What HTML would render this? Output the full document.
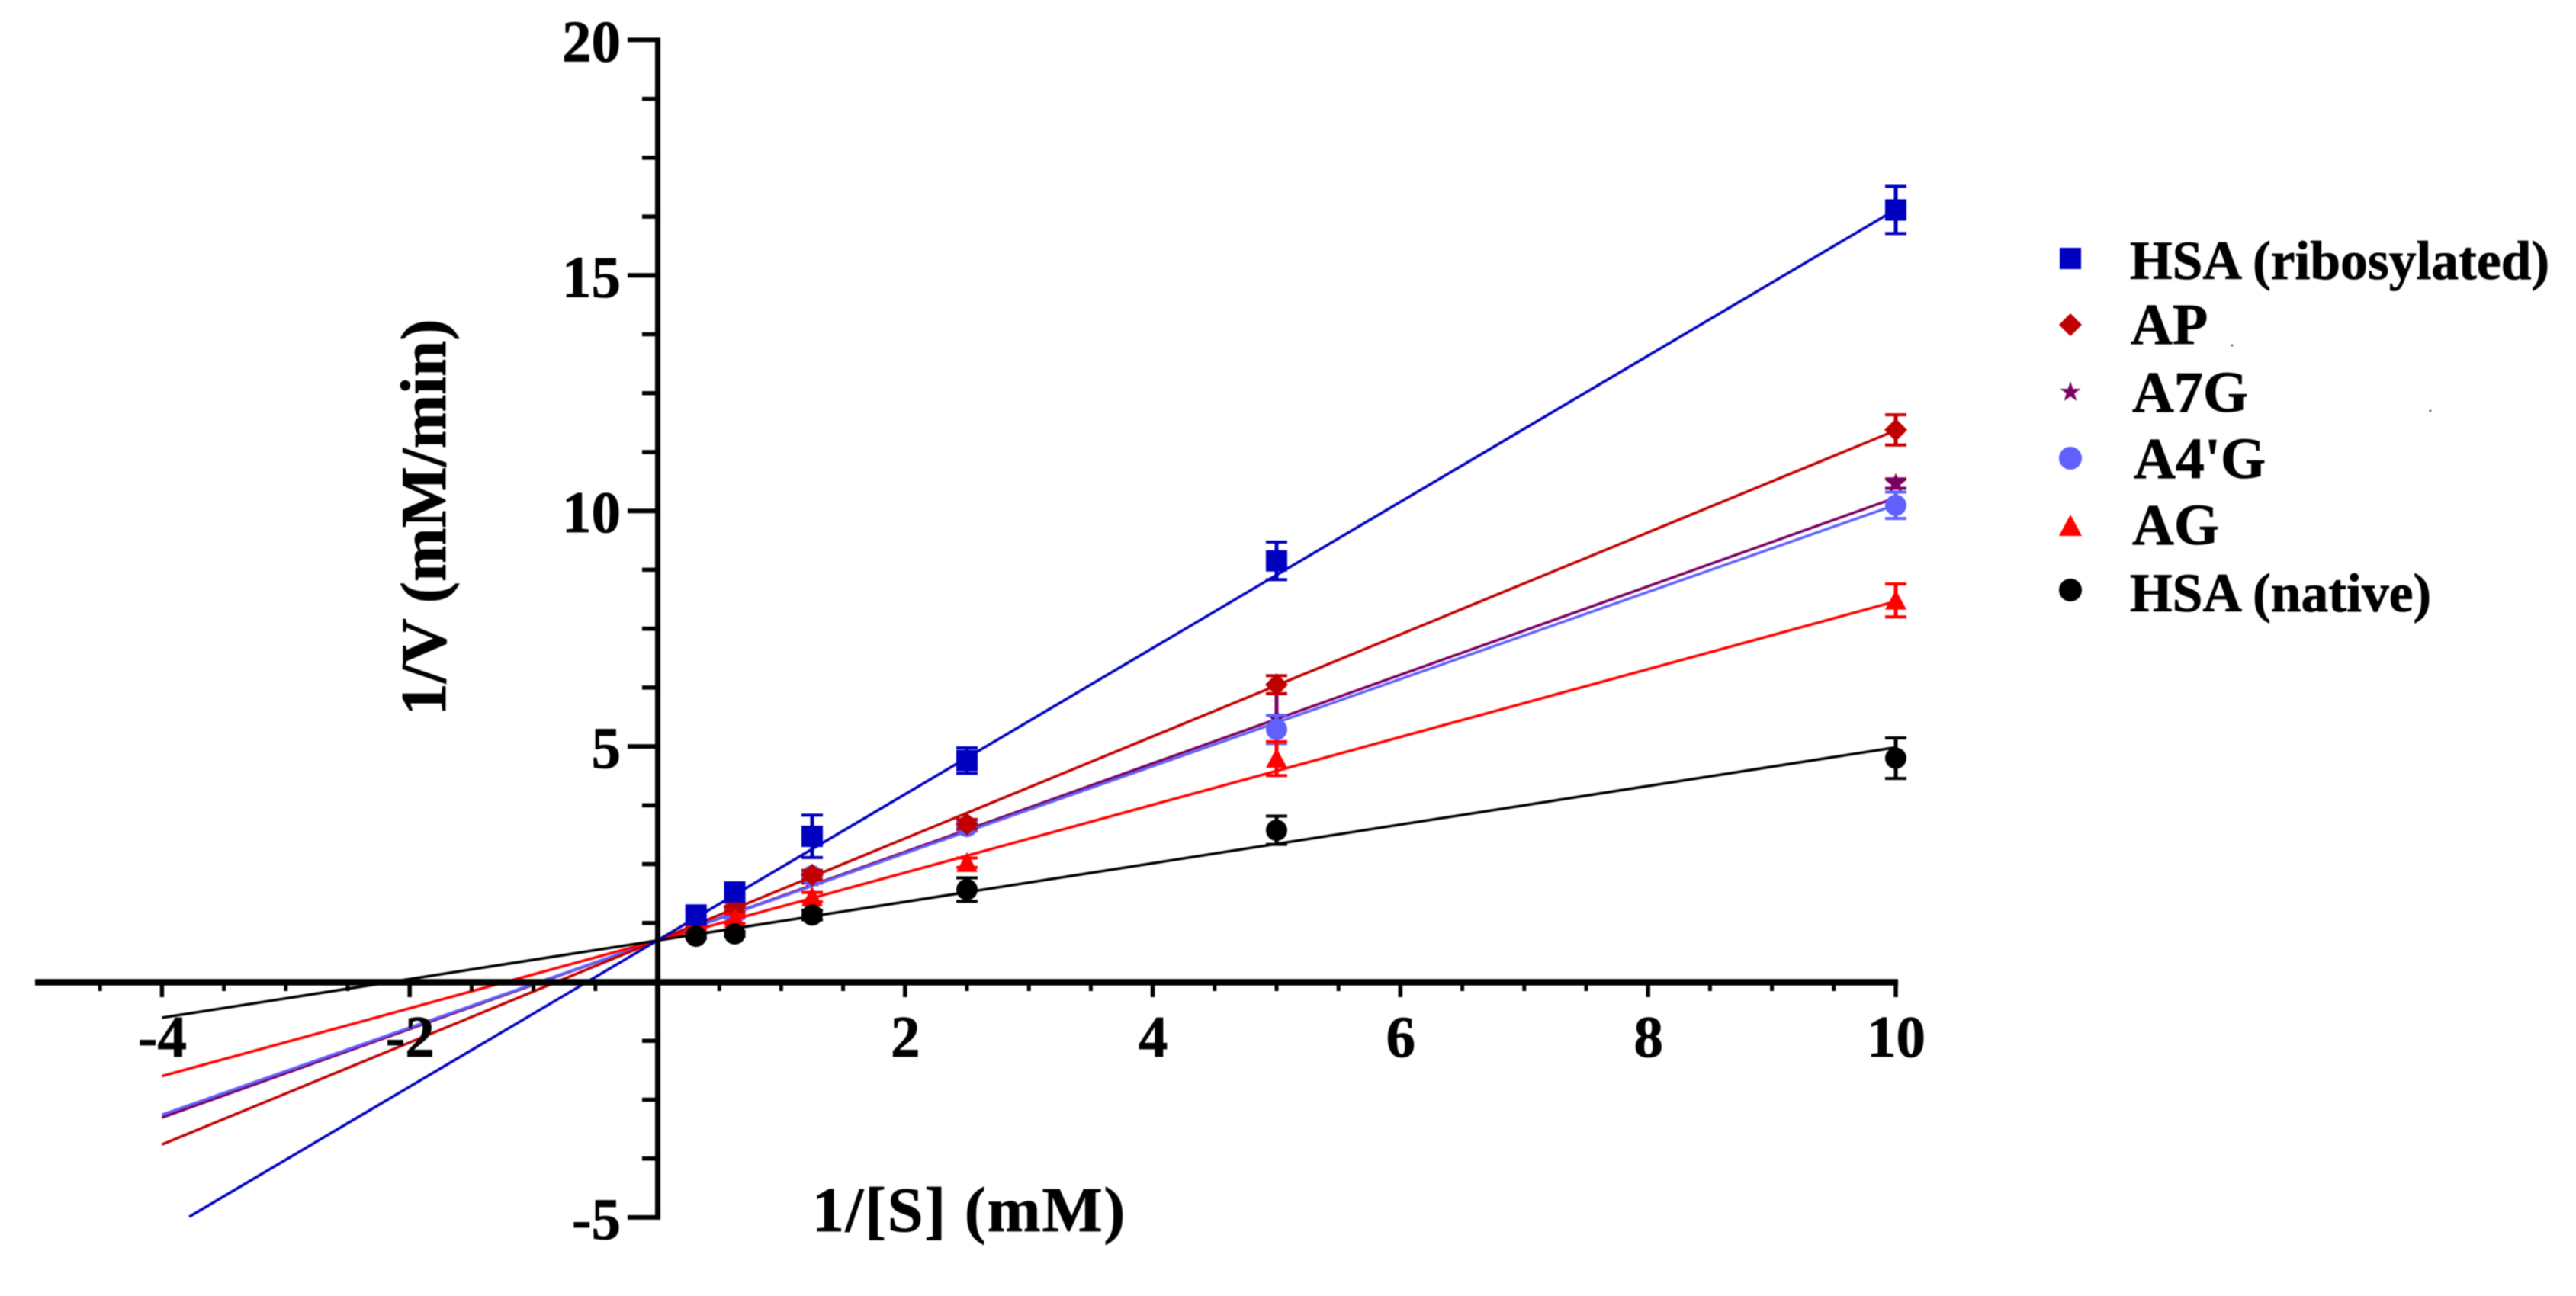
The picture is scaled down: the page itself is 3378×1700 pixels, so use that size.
<!DOCTYPE html>
<html lang="en">
<head>
<meta charset="utf-8">
<title>Lineweaver-Burk plot</title>
<style>
html,body{margin:0;padding:0;background:#fff;width:3378px;height:1700px;overflow:hidden}
svg{display:block;filter:blur(0.7px)}
text{font-family:"Liberation Serif",serif;font-weight:bold;fill:#000;stroke:#000;stroke-width:0.8px}
</style>
</head>
<body>
<svg id="chart" xmlns="http://www.w3.org/2000/svg" width="3378" height="1700" viewBox="0 0 3378 1700">
  <rect x="0" y="0" width="3378" height="1700" fill="#fff"/>
  <g id="series-layer"></g>
  <g id="axes-layer"></g>
  <text x="1065" y="1615" font-size="84" letter-spacing="1.8">1/[S] (mM)</text>
  <text transform="translate(584,678.5) rotate(-90)" text-anchor="middle" font-size="85">1/V (mM/min)</text>
  <g>
    <g>
      <rect x="2701" y="325" width="28" height="28" fill="#0000c0"/>
      <text x="2793" y="366" font-size="71.5">HSA (ribosylated)</text>
    </g>
    <g>
      <polygon points="2715,411 2730,426 2715,441 2700,426" fill="#c00000"/>
      <text x="2794" y="451" font-size="76">AP</text>
    </g>
    <g>
      <polygon points="2715,500 2718.3,510 2728.5,510 2720.2,516 2723.4,526 2715,520 2706.6,526 2709.8,516 2701.5,510 2711.7,510" fill="#7b0060"/>
      <text x="2796" y="540" font-size="76">A7G</text>
    </g>
    <g>
      <circle cx="2715" cy="601" r="15" fill="#6060ff"/>
      <text x="2798" y="627" font-size="76">A4'G</text>
    </g>
    <g>
      <polygon points="2715,675 2730,703 2700,703" fill="#ff0000"/>
      <text x="2796" y="714" font-size="76">AG</text>
    </g>
    <g>
      <circle cx="2715" cy="774" r="15" fill="#000"/>
      <text x="2793" y="802" font-size="71.5">HSA (native)</text>
    </g>
  </g>
  <circle cx="2927" cy="453" r="1.5" fill="#555"/>
  <circle cx="3187" cy="539" r="1.5" fill="#555"/>
</svg>
<script>
// Chart data
const concentrations = [0.3125, 0.625, 1.25, 2.5, 5, 10];
const xTickLabels = [-4, -2, 2, 4, 6, 8, 10];
const yTickLabels = [-5, 5, 10, 15, 20];

const ribosylatedValues = [1.42, 1.91, 3.09, 4.70, 8.94, 16.39];
const ribosylatedErrors = [0.1, 0.1, 0.45, 0.27, 0.4, 0.5];
const apValues = [1.21, 1.59, 2.27, 3.35, 6.31, 11.72];
const apErrors = [0.05, 0.1, 0.1, 0.1, 0.19, 0.32];
const a7gValues = [1.12, 1.5, 2.2, 3.33, 5.6, 10.58];
const a7gErrors = [0.05, 0.1, 0.1, 0.1, 0.52, 0.1];
const a4gValues = [1.12, 1.45, 2.25, 3.3, 5.36, 10.12];
const a4gErrors = [0.05, 0.1, 0.1, 0.1, 0.3, 0.28];
const agValues = [1.15, 1.34, 1.8, 2.53, 4.74, 8.1];
const agErrors = [0.05, 0.1, 0.1, 0.1, 0.36, 0.35];
const nativeValues = [0.97, 1.02, 1.42, 1.96, 3.22, 4.75];
const nativeErrors = [0.05, 0.05, 0.1, 0.25, 0.3, 0.43];

// Fitted regression lines: [slope, intercept, first x, last x]
const ribosylatedFit = [1.552, 0.88, -3.78, 10];
const apFit = [1.083, 0.88, -4, 10];
const a7gFit = [0.94, 0.88, -4, 10];
const a4gFit = [0.925, 0.88, -4, 10];
const agFit = [0.72, 0.88, -4, 10];
const nativeFit = [0.41, 0.88, -4, 10];

// Axis functions
function xScale(v) { return 862 + 162.4 * v; }
function yScale(v) { return 1288 - 61.78 * v; }

const SVGNS = 'http://www.w3.org/2000/svg';
function make(tag, props, parent) {
  const node = document.createElementNS(SVGNS, tag);
  for (const key in props) node.setAttribute(key, props[key]);
  parent.appendChild(node);
  return node;
}

function drawMarker(kind, cx, cy, color, parent) {
  let el;
  if (kind === 'square') {
    el = make('rect', {x: cx - 14, y: cy - 14, width: 28, height: 28, fill: color}, parent);
  } else if (kind === 'circle') {
    el = make('circle', {cx: cx, cy: cy, r: 14, fill: color}, parent);
  } else if (kind === 'diamond') {
    el = make('polygon', {points: [cx, cy - 15, cx + 15, cy, cx, cy + 15, cx - 15, cy].join(' '), fill: color}, parent);
  } else if (kind === 'triangle') {
    el = make('polygon', {points: [cx, cy - 14, cx + 14, cy + 12, cx - 14, cy + 12].join(' '), fill: color}, parent);
  } else {
    const pts = [];
    for (let i = 0; i < 10; i++) {
      const r = i % 2 ? 6 : 14;
      const a = -Math.PI / 2 + i * Math.PI / 5;
      pts.push(cx + r * Math.cos(a), cy + r * Math.sin(a));
    }
    el = make('polygon', {points: pts.join(' '), fill: color}, parent);
  }
  return el;
}

function drawSeries(key, values, errors, fit, kind, color, lineWidth) {
  const layer = document.getElementById('series-layer');
  const group = make('g', {}, layer);
  
  

  const fitLine = make('line', {
    x1: xScale(fit[2]), y1: yScale(fit[0] * fit[2] + fit[1]),
    x2: xScale(fit[3]), y2: yScale(fit[0] * fit[3] + fit[1]),
    stroke: color, 'stroke-width': lineWidth
  }, group);
  
  

  concentrations.forEach(function (c, i) {
    const px = xScale(c);
    const top = yScale(values[i] + errors[i]);
    const bottom = yScale(values[i] - errors[i]);

    const stem = make('line', {x1: px, y1: top, x2: px, y2: bottom, stroke: color, 'stroke-width': 5}, group);
    
    

    const capTop = make('line', {x1: px - 14, y1: top, x2: px + 14, y2: top, stroke: color, 'stroke-width': 4}, group);
    
    

    const capBottom = make('line', {x1: px - 14, y1: bottom, x2: px + 14, y2: bottom, stroke: color, 'stroke-width': 4}, group);
    
    

    const marker = drawMarker(kind, px, yScale(values[i]), color, group);
    
    
  });
}

drawSeries('a7g', a7gValues, a7gErrors, a7gFit, 'star', '#7b0060', 3.5);
drawSeries('a4g', a4gValues, a4gErrors, a4gFit, 'circle', '#6060ff', 3.5);
drawSeries('ap', apValues, apErrors, apFit, 'diamond', '#c00000', 3.5);
drawSeries('ag', agValues, agErrors, agFit, 'triangle', '#ff0000', 3.5);
drawSeries('hsa-native', nativeValues, nativeErrors, nativeFit, 'circle', '#000000', 3.5);
drawSeries('hsa-ribosylated', ribosylatedValues, ribosylatedErrors, ribosylatedFit, 'square', '#0000c0', 3.5);

// Axes
const axes = document.getElementById('axes-layer');

const xAxisLine = make('line', {x1: 46, y1: yScale(0) + 0.5, x2: xScale(10) + 3, y2: yScale(0) + 0.5, stroke: '#000', 'stroke-width': 8.5}, axes);



const yAxisLine = make('line', {x1: xScale(0) + 0.5, y1: yScale(20) - 3, x2: xScale(0) + 0.5, y2: yScale(-5) + 3, stroke: '#000', 'stroke-width': 7}, axes);



for (let i = -9; i <= 20; i++) {
  const v = i * 0.5;
  if (v === 0) continue;
  const major = i % 4 === 0;
  const tick = make('line', {
    x1: xScale(v), y1: yScale(0),
    x2: xScale(v), y2: yScale(0) + (major ? 20 : 12),
    stroke: '#000', 'stroke-width': major ? 5.5 : 5
  }, axes);
  
  
}

for (let i = -4; i <= 16; i++) {
  const v = i * 1.25;
  if (v === 0) continue;
  const major = i % 4 === 0;
  const tick = make('line', {
    x1: xScale(0), y1: yScale(v),
    x2: xScale(0) - (major ? 39 : 20), y2: yScale(v),
    stroke: '#000', 'stroke-width': major ? 6 : 5.5
  }, axes);
  
  
}

xTickLabels.forEach(function (v) {
  const label = make('text', {x: xScale(v) + 0.5, y: 1386, 'text-anchor': 'middle', 'font-size': 77}, axes);
  label.textContent = String(v);
  
  
});

yTickLabels.forEach(function (v) {
  const label = make('text', {x: 814, y: yScale(v) + 28, 'text-anchor': 'end', 'font-size': 77}, axes);
  label.textContent = String(v);
  
  
});
</script>
</body>
</html>
